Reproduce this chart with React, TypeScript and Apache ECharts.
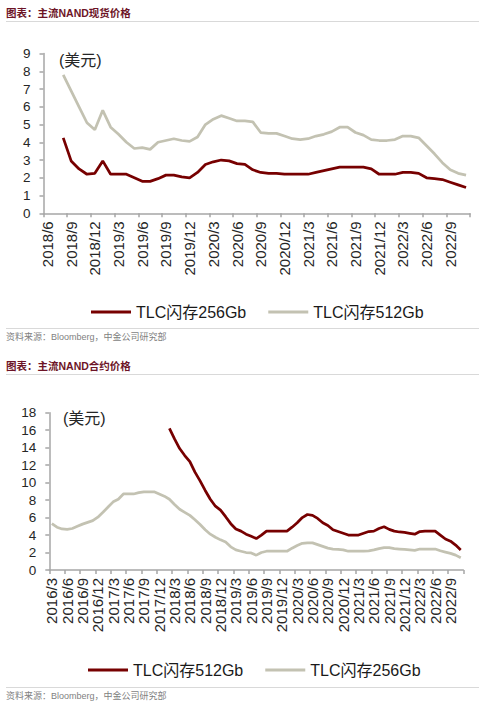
import React, { useEffect, useRef } from "react";
import * as echarts from "echarts";

const FONT = '"Liberation Sans", Arial, "Noto Sans CJK SC", sans-serif';
const RED = "#770000";
const GRAY = "#C3C2B2";
const AXIS = "#A6A6A6";
const LABEL = "#262626";

function months(y: number, m: number, n: number): string[] {
  const out: string[] = [];
  for (let i = 0; i < n; i++) {
    const t = (m - 1) + i;
    out.push(`${y + Math.floor(t / 12)}/${(t % 12) + 1}`);
  }
  return out;
}

// ---- Chart 1: 主流NAND现货价格 (monthly, 2018/6 – 2022/11)
const spotCategories = months(2018, 6, 54);
const spot256 = [
  null, null, 4.25, 2.95, 2.5, 2.2, 2.25, 2.95, 2.2, 2.2,
  2.2, 2.0, 1.8, 1.8, 1.95, 2.15, 2.15, 2.05, 2.0, 2.3,
  2.75, 2.9, 3.0, 2.95, 2.8, 2.75, 2.45, 2.3, 2.25, 2.25,
  2.2, 2.2, 2.2, 2.2, 2.3, 2.4, 2.5, 2.6, 2.6, 2.6,
  2.6, 2.5, 2.2, 2.2, 2.2, 2.3, 2.3, 2.25, 2.0, 1.95,
  1.9, 1.75, 1.6, 1.45,
];
const spot512 = [
  null, null, 7.8, 6.9, 6.0, 5.1, 4.7, 5.8, 4.85, 4.45,
  4.0, 3.65, 3.7, 3.6, 4.0, 4.1, 4.2, 4.1, 4.05, 4.3,
  5.0, 5.3, 5.5, 5.35, 5.2, 5.2, 5.15, 4.55, 4.5, 4.5,
  4.35, 4.2, 4.15, 4.2, 4.35, 4.45, 4.6, 4.85, 4.85, 4.55,
  4.4, 4.15, 4.1, 4.1, 4.15, 4.35, 4.35, 4.25, 3.8, 3.35,
  2.85, 2.45, 2.25, 2.15,
];

// ---- Chart 2: 主流NAND合约价格 (monthly, 2016/3 – 2022/11)
const contractCategories = months(2016, 3, 81);
const contract512 = [
  null, null, null, null, null, null, null, null, null, null,
  null, null, null, null, null, null, null, null, null, null,
  null, null, null, 16.2, 15.0, 13.9, 13.1, 12.4, 11.2, 10.2,
  9.1, 8.1, 7.3, 6.85, 6.1, 5.3, 4.7, 4.45, 4.1, 3.85,
  3.6, 4.0, 4.45, 4.45, 4.45, 4.45, 4.45, 4.9, 5.4, 6.0,
  6.35, 6.25, 5.9, 5.4, 5.1, 4.6, 4.4, 4.2, 4.0, 4.0,
  4.0, 4.2, 4.4, 4.45, 4.75, 4.95, 4.65, 4.45, 4.35, 4.3,
  4.2, 4.1, 4.4, 4.45, 4.45, 4.45, 4.0, 3.55, 3.3, 2.85,
  2.3,
];
const contract256 = [
  5.3, 4.9, 4.7, 4.65, 4.75, 5.0, 5.25, 5.45, 5.65, 6.05,
  6.6, 7.2, 7.8, 8.1, 8.7, 8.7, 8.7, 8.85, 8.95, 8.95,
  8.95, 8.7, 8.45, 8.1, 7.5, 6.95, 6.6, 6.25, 5.75, 5.2,
  4.6, 4.1, 3.75, 3.45, 3.2, 2.65, 2.3, 2.15, 2.0, 1.95,
  1.7, 2.0, 2.15, 2.15, 2.15, 2.15, 2.15, 2.5, 2.8, 3.05,
  3.1, 3.1, 2.9, 2.7, 2.5, 2.4, 2.35, 2.3, 2.15, 2.15,
  2.15, 2.15, 2.2, 2.3, 2.45, 2.55, 2.55, 2.45, 2.4, 2.35,
  2.3, 2.25, 2.4, 2.4, 2.4, 2.4, 2.2, 2.05, 1.9, 1.7,
  1.4,
];

const NAME_256 = "TLC闪存256Gb";
const NAME_512 = "TLC闪存512Gb";
const UNIT = "(美元)";
const SOURCE = "资料来源：Bloomberg，中金公司研究部";
const TITLE_SPOT = "图表：主流NAND现货价格";
const TITLE_CONTRACT = "图表：主流NAND合约价格";

type Cfg = {
  title: string;
  titleY: number;
  sepTop: number;
  gridLeft: number;
  gridTop: number;
  gridWidth: number;
  gridHeight: number;
  yMax: number;
  yInterval: number;
  unitX: number;
  unitY: number;
  cats: string[];
  series: { name: string; data: (number | null)[]; color: string }[];
  legendLeft: number;
  legendY: number;
  sepBottom: number;
  sourceY: number;
};

function buildOption(c: Cfg) {
  return {
    animation: false,
    textStyle: { fontFamily: FONT },
    graphic: [
      {
        type: "text",
        x: 6,
        y: c.titleY,
        style: {
          text: c.title,
          fontSize: 10.5,
          fontWeight: "bold",
          fill: "#6D1427",
          fontFamily: FONT,
          verticalAlign: "middle",
        },
      },
      {
        type: "line",
        shape: { x1: 6, y1: c.sepTop, x2: 479, y2: c.sepTop },
        style: { stroke: "#D9D9D9", lineWidth: 1 },
      },
      {
        type: "text",
        x: c.unitX,
        y: c.unitY,
        style: {
          text: UNIT,
          fontSize: 16,
          fill: LABEL,
          fontFamily: FONT,
          verticalAlign: "middle",
        },
      },
      {
        type: "line",
        shape: { x1: 6, y1: c.sepBottom, x2: 479, y2: c.sepBottom },
        style: { stroke: "#D9D9D9", lineWidth: 1 },
      },
      {
        type: "text",
        x: 6,
        y: c.sourceY,
        style: {
          text: SOURCE,
          fontSize: 9,
          fill: "#7F7F7F",
          fontFamily: FONT,
          verticalAlign: "middle",
        },
      },
    ],
    grid: {
      left: c.gridLeft,
      top: c.gridTop,
      width: c.gridWidth,
      height: c.gridHeight,
      containLabel: false,
    },
    legend: {
      left: c.legendLeft,
      top: c.legendY - 10,
      icon: "rect",
      itemWidth: 40,
      itemHeight: 3,
      itemGap: 22,
      textStyle: { fontSize: 16, color: "#1A1A1A", fontFamily: FONT },
      data: c.series.map((s) => s.name),
    },
    xAxis: {
      type: "category",
      data: c.cats,
      boundaryGap: true,
      axisLine: { show: true, lineStyle: { color: AXIS, width: 1.5 } },
      axisTick: {
        show: true,
        interval: 2,
        length: 4,
        lineStyle: { color: AXIS, width: 1.5 },
      },
      axisLabel: {
        interval: 2,
        rotate: 90,
        fontSize: 15,
        color: LABEL,
        margin: 8,
        fontFamily: FONT,
      },
      splitLine: { show: false },
    },
    yAxis: {
      type: "value",
      min: 0,
      max: c.yMax,
      interval: c.yInterval,
      axisLine: { show: true, lineStyle: { color: AXIS, width: 1.5 } },
      axisTick: { show: true, length: 4, lineStyle: { color: AXIS, width: 1.5 } },
      axisLabel: { fontSize: 13.5, color: LABEL, margin: 13, fontFamily: FONT },
      splitLine: { show: false },
    },
    series: c.series.map((s) => ({
      name: s.name,
      type: "line",
      data: s.data,
      color: s.color,
      symbol: "none",
      showSymbol: false,
      connectNulls: false,
      lineStyle: { color: s.color, width: 2.75 },
      itemStyle: { color: s.color },
    })),
  };
}

const spotCfg: Cfg = {
  title: TITLE_SPOT,
  titleY: 13,
  sepTop: 21.5,
  gridLeft: 43.5,
  gridTop: 53.5,
  gridWidth: 426.5,
  gridHeight: 159.8,
  yMax: 9,
  yInterval: 1,
  unitX: 59,
  unitY: 60,
  cats: spotCategories,
  series: [
    { name: NAME_256, data: spot256, color: RED },
    { name: NAME_512, data: spot512, color: GRAY },
  ],
  legendLeft: 86,
  legendY: 309,
  sepBottom: 328.5,
  sourceY: 337,
};

const contractCfg: Cfg = {
  title: TITLE_CONTRACT,
  titleY: 15.7,
  sepTop: 24.5,
  gridLeft: 49.3,
  gridTop: 62.7,
  gridWidth: 414,
  gridHeight: 157.3,
  yMax: 18,
  yInterval: 2,
  unitX: 63,
  unitY: 68,
  cats: contractCategories,
  series: [
    { name: NAME_512, data: contract512, color: RED },
    { name: NAME_256, data: contract256, color: GRAY },
  ],
  legendLeft: 83,
  legendY: 317,
  sepBottom: 337.5,
  sourceY: 346,
};

function Chart({ cfg, top, height }: { cfg: Cfg; top: number; height: number }) {
  const ref = useRef<HTMLDivElement>(null);
  useEffect(() => {
    if (!ref.current) return;
    const chart = echarts.init(ref.current, undefined, { renderer: "svg" });
    chart.setOption(buildOption(cfg) as any);
    return () => chart.dispose();
  }, [cfg]);
  return (
    <div
      ref={ref}
      style={{ position: "absolute", left: 0, top, width: 485, height }}
    />
  );
}

export default function App() {
  useEffect(() => {
    document.body.style.margin = "0";
    document.body.style.background = "#ffffff";
  }, []);
  return (
    <div style={{ position: "relative", width: 485, height: 707, background: "#fff" }}>
      <Chart cfg={spotCfg} top={0} height={350} />
      <Chart cfg={contractCfg} top={350} height={357} />
    </div>
  );
}
